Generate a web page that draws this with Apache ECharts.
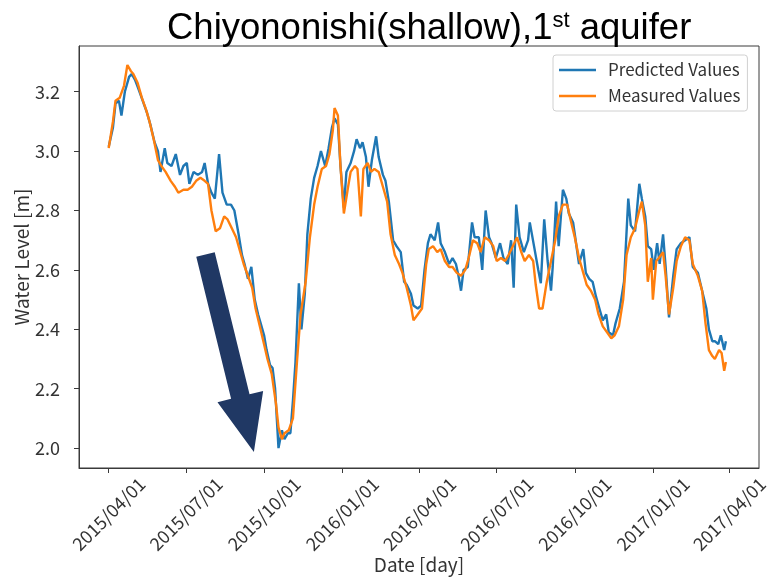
<!DOCTYPE html>
<html>
<head>
<meta charset="utf-8">
<title>Chiyononishi water level</title>
<script src="https://cdn.jsdelivr.net/npm/echarts@6/dist/echarts.min.js"></script>
<style>
  html, body { margin: 0; padding: 0; background: #ffffff; }
  #chart { width: 769px; height: 579px; }
</style>
</head>
<body>
<div id="chart"></div>
<script>
// Record start; every series keeps its samples as day offsets from this date.
const recordStart = '2015-04-01';
const dateAxisRange = ['2015-02-25', '2017-05-06'];
const levelAxisRange = [1.933, 3.354];

const quarterTicks = ['2015/04/01', '2015/07/01', '2015/10/01', '2016/01/01', '2016/04/01',
                      '2016/07/01', '2016/10/01', '2017/01/01', '2017/04/01'];
const levelTicks = [2.0, 2.2, 2.4, 2.6, 2.8, 3.0, 3.2];

// Model output (predicted water level, m)
const predictedDays = [
  0, 5, 8, 12, 15, 19, 24, 27, 31, 35,
  40, 45, 49, 54, 58, 61, 66, 69, 74, 79,
  84, 88, 92, 95, 100, 105, 110, 113, 117, 121,
  125, 130, 134, 139, 144, 148, 153, 157, 160, 164,
  168, 172, 176, 179, 183, 186, 190, 193, 196, 198,
  200, 204, 207, 211, 214, 217, 220, 224, 227, 231,
  234, 238, 242, 246, 250, 255, 259, 263, 266, 270,
  273, 277, 280, 285, 289, 292, 296, 299, 303, 306,
  310, 315, 318, 323, 326, 330, 335, 339, 344, 348,
  351, 356, 359, 364, 368, 372, 376, 379, 384, 388,
  391, 396, 401, 405, 409, 412, 415, 418, 423, 428,
  431, 436, 440, 444, 448, 451, 456, 461, 465, 470,
  474, 477, 480, 484, 489, 494, 496, 501, 506, 509,
  513, 517, 521, 523, 527, 530, 535, 539, 542, 547,
  550, 554, 559, 562, 566, 570, 574, 579, 582, 586,
  589, 594, 597, 602, 607, 612, 615, 620, 625, 628,
  632, 635, 639, 642, 646, 649, 653, 656, 660, 665,
  669, 674, 679, 684, 688, 694, 699, 704, 707, 711,
  714, 718, 721, 725, 727
];
const predictedLevels = [
  3.015, 3.08, 3.16, 3.17, 3.12, 3.20, 3.25, 3.26, 3.24, 3.21,
  3.17, 3.13, 3.09, 3.03, 3.00, 2.93, 3.01, 2.96, 2.95, 2.99,
  2.92, 2.95, 2.96, 2.89, 2.93, 2.92, 2.93, 2.96, 2.89, 2.86,
  2.84, 2.99, 2.86, 2.82, 2.82, 2.80, 2.72, 2.65, 2.62, 2.57,
  2.61, 2.50, 2.45, 2.42, 2.38, 2.33, 2.28, 2.27, 2.20, 2.10,
  2.00, 2.06, 2.03, 2.05, 2.05, 2.16, 2.29, 2.555, 2.40, 2.52,
  2.72, 2.84, 2.91, 2.95, 3.00, 2.95, 3.01, 3.08, 3.11, 3.09,
  2.95, 2.81, 2.93, 2.96, 3.00, 3.04, 3.01, 3.03, 2.98, 2.88,
  2.97, 3.05, 2.98, 2.92, 2.90, 2.83, 2.70, 2.68, 2.66, 2.56,
  2.55, 2.52, 2.48, 2.47, 2.48, 2.60, 2.69, 2.72, 2.70, 2.76,
  2.69, 2.66, 2.62, 2.64, 2.62, 2.58, 2.53, 2.60, 2.61, 2.76,
  2.71, 2.71, 2.60, 2.80, 2.71, 2.69, 2.64, 2.69, 2.64, 2.62,
  2.70, 2.54, 2.82, 2.71, 2.66, 2.70, 2.76, 2.68, 2.60, 2.555,
  2.77, 2.63, 2.53, 2.61, 2.83, 2.68, 2.87, 2.84, 2.79, 2.76,
  2.70, 2.62, 2.67, 2.59, 2.57, 2.56, 2.51, 2.46, 2.43, 2.45,
  2.39, 2.38, 2.42, 2.47, 2.56, 2.84, 2.75, 2.73, 2.89, 2.84,
  2.78, 2.68, 2.67, 2.60, 2.69, 2.62, 2.72, 2.61, 2.44, 2.58,
  2.67, 2.69, 2.70, 2.71, 2.61, 2.59, 2.53, 2.47, 2.40, 2.36,
  2.36, 2.35, 2.38, 2.33, 2.36
];

// Observed water level at the well (m)
const measuredDays = [
  0, 5, 8, 13, 18, 22, 26, 29, 34, 39,
  44, 48, 53, 58, 62, 67, 73, 78, 82, 88,
  93, 98, 103, 108, 113, 117, 121, 126, 131, 136,
  140, 145, 150, 154, 159, 164, 169, 173, 178, 183,
  187, 192, 197, 200, 204, 207, 212, 217, 222, 226,
  232, 237, 242, 246, 251, 256, 260, 264, 266, 270,
  273, 277, 282, 285, 290, 293, 297, 300, 305, 309,
  313, 318, 323, 328, 332, 337, 342, 346, 351, 356,
  359, 364, 369, 374, 377, 382, 387, 391, 396, 401,
  405, 410, 415, 420, 424, 429, 434, 438, 443, 448,
  453, 457, 462, 467, 471, 476, 481, 486, 490, 495,
  500, 503, 507, 511, 516, 521, 526, 530, 535, 540,
  544, 549, 554, 559, 563, 568, 573, 577, 582, 587,
  592, 596, 601, 606, 610, 615, 620, 625, 628, 632,
  635, 639, 641, 645, 648, 653, 656, 660, 665, 669,
  674, 679, 684, 688, 694, 699, 703, 707, 711, 714,
  719, 722, 725, 727
];
const measuredLevels = [
  3.01, 3.10, 3.17, 3.18, 3.22, 3.29, 3.27, 3.26, 3.23, 3.18,
  3.14, 3.10, 3.04, 2.97, 2.95, 2.93, 2.90, 2.88, 2.86, 2.87,
  2.87, 2.88, 2.90, 2.91, 2.90, 2.89, 2.80, 2.73, 2.74, 2.78,
  2.77, 2.74, 2.71, 2.67, 2.62, 2.58, 2.54, 2.47, 2.41, 2.35,
  2.30, 2.25, 2.15, 2.07, 2.03, 2.05, 2.06, 2.10, 2.30, 2.45,
  2.56, 2.71, 2.82, 2.88, 2.94, 2.95, 2.99, 3.07, 3.145, 3.12,
  2.95, 2.79, 2.88, 2.93, 2.95, 2.94, 2.78, 2.94, 2.96, 2.93,
  2.94, 2.93, 2.88, 2.83, 2.72, 2.65, 2.62, 2.59, 2.54, 2.48,
  2.43, 2.45, 2.47, 2.62, 2.67, 2.68, 2.66, 2.67, 2.63, 2.61,
  2.61, 2.59, 2.58, 2.60, 2.64, 2.70, 2.69, 2.66, 2.71, 2.70,
  2.68, 2.63, 2.64, 2.63, 2.65, 2.68, 2.71, 2.66, 2.63, 2.65,
  2.63, 2.55, 2.47, 2.47, 2.56, 2.63, 2.70, 2.78, 2.82, 2.82,
  2.77, 2.71, 2.64, 2.59, 2.55, 2.53, 2.50, 2.45, 2.41, 2.39,
  2.37, 2.38, 2.41, 2.50, 2.65, 2.71, 2.74, 2.80, 2.83, 2.75,
  2.56, 2.64, 2.50, 2.63, 2.64, 2.66, 2.58, 2.45, 2.54, 2.63,
  2.68, 2.71, 2.70, 2.62, 2.58, 2.53, 2.42, 2.33, 2.31, 2.30,
  2.33, 2.32, 2.26, 2.29
];

// Drawdown annotation: tail and tip of the arrow, as (date, level)
const arrowTail = ['2015-07-24', 2.652];
const arrowTip = ['2015-09-19', 1.987];

const DAY_MS = 86400000;
const parseDate = s => {
  const [y, m, d] = s.split(/[-\/]/).map(Number);
  return Date.UTC(y, m - 1, d);
};
const startTime = parseDate(recordStart);
const toSeries = (days, levels) => days.map((d, i) => [startTime + d * DAY_MS, levels[i]]);
const pad2 = n => (n < 10 ? '0' : '') + n;
const formatDate = v => {
  const dt = new Date(v);
  return dt.getUTCFullYear() + '/' + pad2(dt.getUTCMonth() + 1) + '/' + pad2(dt.getUTCDate());
};

const uiFont = 'Noto Sans CJK JP';
const inkColor = '#333333';
const frameColor = '#3a3a3a';
const predictedColor = '#1f77b4';
const measuredColor = '#ff7f0e';

const chart = echarts.init(document.getElementById('chart'));

chart.setOption({
  animation: false,
  backgroundColor: '#ffffff',
  title: {
    text: 'Chiyononishi(shallow),1{sup|st} aquifer',
    left: 167,
    top: 10,
    padding: 0,
    textStyle: {
      fontFamily: 'Liberation Sans',
      fontSize: 36.5,
      fontWeight: 'normal',
      color: '#000000',
      rich: {
        sup: { fontFamily: 'Liberation Sans', fontSize: 22, color: '#000000', verticalAlign: 'top' }
      }
    }
  },
  legend: {
    orient: 'vertical',
    left: 553,
    top: 55,
    padding: [5, 7, 5, 6],
    itemWidth: 37,
    itemHeight: 2.5,
    itemGap: 6,
    icon: 'rect',
    backgroundColor: '#ffffff',
    borderColor: '#d0d0d0',
    borderWidth: 1,
    borderRadius: 3,
    textStyle: { fontFamily: uiFont, fontSize: 17, color: inkColor, lineHeight: 20, padding: [0, 0, 0, 7] },
    data: [
      { name: 'Predicted Values', itemStyle: { color: predictedColor } },
      { name: 'Measured Values', itemStyle: { color: measuredColor } }
    ]
  },
  grid: {
    left: 79,
    right: 10,
    top: 46,
    bottom: 111,
    show: true,
    borderColor: frameColor,
    borderWidth: 1,
    outerBoundsMode: 'none'
  },
  // Dates are plotted as UTC timestamps on a linear axis so the quarterly ticks can be placed exactly
  xAxis: {
    type: 'value',
    min: parseDate(dateAxisRange[0]),
    max: parseDate(dateAxisRange[1]),
    name: 'Date [day]',
    nameLocation: 'middle',
    nameGap: 87,
    nameMoveOverlap: false,
    nameTextStyle: { fontFamily: uiFont, fontSize: 19, color: inkColor },
    axisLine: { show: true, onZero: false, lineStyle: { color: frameColor, width: 1 } },
    axisTick: { show: true, length: 5, lineStyle: { color: frameColor }, customValues: quarterTicks.map(parseDate) },
    axisLabel: {
      customValues: quarterTicks.map(parseDate),
      formatter: formatDate,
      rotate: 45,
      align: 'center',
      verticalAlign: 'middle',
      margin: 46,
      fontFamily: uiFont,
      fontSize: 18,
      color: inkColor
    },
    splitLine: { show: false }
  },
  yAxis: {
    type: 'value',
    min: levelAxisRange[0],
    max: levelAxisRange[1],
    name: 'Water Level [m]',
    nameLocation: 'middle',
    nameGap: 48,
    nameMoveOverlap: false,
    nameTextStyle: { fontFamily: uiFont, fontSize: 19, color: inkColor },
    axisLine: { show: true, onZero: false, lineStyle: { color: frameColor, width: 1 } },
    axisTick: { show: true, length: 5, lineStyle: { color: frameColor }, customValues: levelTicks },
    axisLabel: {
      customValues: levelTicks,
      formatter: v => v.toFixed(1),
      margin: 19,
      fontFamily: uiFont,
      fontSize: 18,
      color: inkColor
    },
    splitLine: { show: false }
  },
  series: [
    {
      name: 'Predicted Values',
      type: 'line',
      data: toSeries(predictedDays, predictedLevels),
      showSymbol: false,
      symbol: 'none',
      color: predictedColor,
      lineStyle: { width: 2.4, color: predictedColor },
      z: 2
    },
    {
      name: 'Measured Values',
      type: 'line',
      data: toSeries(measuredDays, measuredLevels),
      showSymbol: false,
      symbol: 'none',
      color: measuredColor,
      lineStyle: { width: 2.4, color: measuredColor },
      z: 3
    }
  ]
});

// Block arrow pointing at the autumn 2015 low, built in pixel space from data anchors
function drawArrow() {
  const tail = chart.convertToPixel({ gridIndex: 0 }, [parseDate(arrowTail[0]), arrowTail[1]]);
  const tip = chart.convertToPixel({ gridIndex: 0 }, [parseDate(arrowTip[0]), arrowTip[1]]);
  const dx = tip[0] - tail[0], dy = tip[1] - tail[1];
  const len = Math.hypot(dx, dy);
  const ux = dx / len, uy = dy / len;
  const nx = -uy, ny = ux;
  const shaftHalf = 9.5, headHalf = 23.5, headLen = 57;
  const bx = tip[0] - ux * headLen, by = tip[1] - uy * headLen;
  const pts = [
    [tail[0] + nx * shaftHalf, tail[1] + ny * shaftHalf],
    [bx + nx * shaftHalf, by + ny * shaftHalf],
    [bx + nx * headHalf, by + ny * headHalf],
    [tip[0], tip[1]],
    [bx - nx * headHalf, by - ny * headHalf],
    [bx - nx * shaftHalf, by - ny * shaftHalf],
    [tail[0] - nx * shaftHalf, tail[1] - ny * shaftHalf]
  ];
  chart.setOption({
    graphic: [{
      type: 'polygon',
      shape: { points: pts },
      style: { fill: '#203864' },
      z: 100
    }]
  });
}
drawArrow();
</script>
</body>
</html>
